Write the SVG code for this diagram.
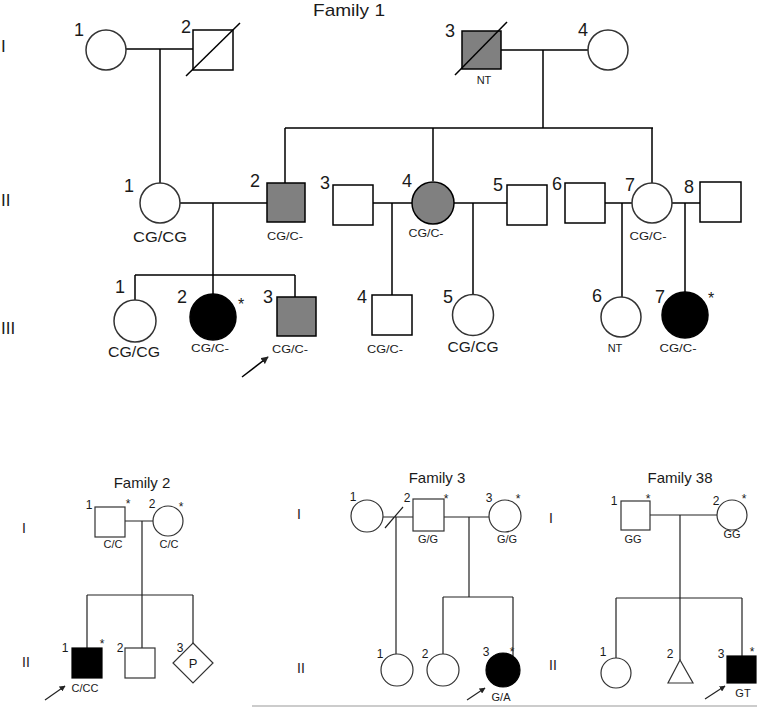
<svg xmlns="http://www.w3.org/2000/svg" width="757" height="707" viewBox="0 0 757 707">
<style>
text{font-family:"Liberation Sans",Arial,sans-serif;fill:#1a1a1a}
.t{font-size:17px}
.n{font-size:18px;text-anchor:middle}
.g{font-size:14px;text-anchor:middle}
.s{font-size:10px;text-anchor:middle}
.ast{font-size:16px;text-anchor:middle}
.n2{font-size:12px;text-anchor:middle}
.g2{font-size:11px;text-anchor:middle}
.a2{font-size:13px;text-anchor:middle}
.r{font-size:17px}
.r2{font-size:14px;text-anchor:middle}
.ttl{font-size:15px;text-anchor:middle}
.c1{fill:#fff;stroke:#333;stroke-width:1.5}
.q1{fill:#fff;stroke:#000;stroke-width:1.5}
.gr{fill:#808080;stroke:#000;stroke-width:1.5}
.bk{fill:#000;stroke:#000;stroke-width:1.5}
.c2{fill:#fff;stroke:#333;stroke-width:1.2}
.bk2{fill:#000;stroke:#000;stroke-width:1.2}
.l1{stroke:#000;stroke-width:1.5;fill:none}
.l2{stroke:#222;stroke-width:1.2;fill:none}
</style>
<defs>
<marker id="ah" viewBox="0 0 10 10" refX="9" refY="5" markerWidth="5" markerHeight="5" orient="auto">
<path d="M0,0 L10,5 L0,10 z" fill="#222"/>
</marker>
</defs>
<rect width="757" height="707" fill="#fff"/>

<!-- generation labels -->
<text class="r" x="1" y="52">I</text>
<text class="r" x="1" y="206">II</text>
<text class="r" x="1" y="334">III</text>
<text class="t" x="349" y="16" text-anchor="middle" textLength="72" lengthAdjust="spacingAndGlyphs">Family 1</text>

<g id="connectors">
<!-- Family 1 -->
<path class="l1" d="M126,49 H193 M160,49 V183"/>
<path class="l1" d="M501,50 H588 M543,50 V128 M285,128 H653 M285,128 V183 M433,128 V181 M652,128 V183"/>
<path class="l1" d="M180,203 H267 M213,203 V294 M135,275 H295 M135,275 V300 M295,275 V297"/>
<path class="l1" d="M373,203 H412 M392,203 V295"/>
<path class="l1" d="M454,203 H507 M473,203 V295"/>
<path class="l1" d="M605,203 H632 M622,203 V297"/>
<path class="l1" d="M672,203 H700 M685,203 V292"/>
<line class="l1" x1="242" y1="377" x2="268" y2="357" marker-end="url(#ah)"/>
<!-- Family 2 -->
<path class="l2" d="M125,521 H153 M142,521 V595 M87,595 H193 M87,595 V648 M142,595 V648 M193,595 V643"/>
<line class="l2" x1="45" y1="700" x2="65" y2="686" marker-end="url(#ah)"/>
<!-- Family 3 -->
<path class="l2" d="M383,517 H413 M385,528 L403,507 M396,517 V654 M444,517 H489 M469,517 V597 M443,597 H513 M443,597 V654 M513,597 V656"/>
<line class="l2" x1="467" y1="700" x2="485" y2="688" marker-end="url(#ah)"/>
<!-- Family 38 -->
<path class="l2" d="M650,515 H717 M680,515 V660 M616,598 H742 M616,598 V658 M742,598 V656"/>
<line class="l2" x1="705" y1="699" x2="725" y2="686" marker-end="url(#ah)"/>
</g>

<!-- Family 1 generation I -->
<g id="f1-I-1"><circle class="c1" cx="106" cy="50" r="20"/><text class="n" x="79" y="36">1</text></g>
<g id="f1-I-2"><rect class="q1" x="193" y="30" width="40" height="40"/><line class="l1" x1="186" y1="76" x2="240" y2="23" stroke-width="1.2"/><text class="n" x="186" y="33">2</text></g>
<g id="f1-I-3"><rect class="gr" x="462" y="31" width="39" height="38"/><line class="l1" x1="455" y1="75" x2="507" y2="22" stroke-width="1.2"/><text class="n" x="450" y="37">3</text><text class="g2" x="484" y="84">NT</text></g>
<g id="f1-I-4"><circle class="c1" cx="608" cy="50" r="20"/><text class="n" x="583" y="36">4</text></g>

<!-- Family 1 generation II -->
<g id="f1-II-1"><circle class="c1" cx="160" cy="203" r="20"/><text class="n" x="129" y="192">1</text><text class="g" x="160" y="242" textLength="54" lengthAdjust="spacingAndGlyphs">CG/CG</text></g>
<g id="f1-II-2"><rect class="gr" x="267" y="183" width="38" height="39"/><text class="n" x="255" y="187">2</text><text class="s" x="285" y="240" textLength="36" lengthAdjust="spacingAndGlyphs">CG/C-</text></g>
<g id="f1-II-3"><rect class="q1" x="333" y="185" width="40" height="40"/><text class="n" x="325" y="189">3</text></g>
<g id="f1-II-4"><circle class="gr" cx="433" cy="203" r="21" stroke="#333"/><text class="n" x="407" y="187">4</text><text class="s" x="426" y="237" textLength="35" lengthAdjust="spacingAndGlyphs">CG/C-</text></g>
<g id="f1-II-5"><rect class="q1" x="507" y="185" width="40" height="40"/><text class="n" x="498" y="191">5</text></g>
<g id="f1-II-6"><rect class="q1" x="565" y="183" width="40" height="40"/><text class="n" x="557" y="190">6</text></g>
<g id="f1-II-7"><circle class="c1" cx="652" cy="203" r="20"/><text class="n" x="630" y="191">7</text><text class="s" x="648" y="240" textLength="37" lengthAdjust="spacingAndGlyphs">CG/C-</text></g>
<g id="f1-II-8"><rect class="q1" x="700" y="182" width="41" height="40"/><text class="n" x="689" y="193">8</text></g>

<!-- Family 1 generation III -->
<g id="f1-III-1"><circle class="c1" cx="135" cy="321" r="21"/><text class="n" x="120" y="293">1</text><text class="g" x="134" y="357" textLength="52" lengthAdjust="spacingAndGlyphs">CG/CG</text></g>
<g id="f1-III-2"><circle class="bk" cx="213" cy="317" r="23"/><text class="n" x="182" y="303">2</text><text class="ast" x="241" y="310">*</text><text class="s" x="210" y="352" textLength="38" lengthAdjust="spacingAndGlyphs">CG/C-</text></g>
<g id="f1-III-3"><rect class="gr" x="277" y="297" width="39" height="39"/><text class="n" x="268" y="303">3</text><text class="s" x="290" y="353" textLength="36" lengthAdjust="spacingAndGlyphs">CG/C-</text></g>
<g id="f1-III-4"><rect class="q1" x="372" y="295" width="40" height="40"/><text class="n" x="362" y="303">4</text><text class="s" x="385" y="353" textLength="36" lengthAdjust="spacingAndGlyphs">CG/C-</text></g>
<g id="f1-III-5"><circle class="c1" cx="473" cy="315" r="20.5"/><text class="n" x="448" y="303">5</text><text class="g" x="473" y="352" textLength="51" lengthAdjust="spacingAndGlyphs">CG/CG</text></g>
<g id="f1-III-6"><circle class="c1" cx="621" cy="317" r="20"/><text class="n" x="597" y="302">6</text><text class="g2" x="615" y="352">NT</text></g>
<g id="f1-III-7"><circle class="bk" cx="685" cy="315" r="23"/><text class="n" x="660" y="303">7</text><text class="ast" x="711" y="304">*</text><text class="s" x="678" y="352" textLength="37" lengthAdjust="spacingAndGlyphs">CG/C-</text></g>

<!-- Family 2 -->
<text class="ttl" x="142" y="488">Family 2</text>
<text class="r2" x="24" y="533">I</text>
<text class="r2" x="26" y="667">II</text>
<g id="f2-I-1"><rect class="c2" x="95" y="507" width="30" height="30" stroke="#000"/><text class="n2" x="89" y="509">1</text><text class="n2" x="128" y="508">*</text><text class="g2" x="113" y="548">C/C</text></g>
<g id="f2-I-2"><circle class="c2" cx="168" cy="521" r="15"/><text class="n2" x="152" y="508">2</text><text class="n2" x="181" y="511">*</text><text class="g2" x="169" y="548">C/C</text></g>
<g id="f2-II-1"><rect class="bk2" x="72" y="648" width="30" height="30"/><text class="n2" x="65" y="652">1</text><text class="n2" x="102" y="648">*</text><text class="g2" x="85" y="692">C/CC</text></g>
<g id="f2-II-2"><rect class="c2" x="125" y="648" width="30" height="30" stroke="#000"/><text class="n2" x="120" y="652">2</text></g>
<g id="f2-II-3"><polygon class="c2" points="193,643 213,663 193,683 173,663" stroke="#000"/><text class="a2" x="193" y="668">P</text><text class="n2" x="180" y="652">3</text></g>

<!-- Family 3 -->
<text class="ttl" x="437" y="483">Family 3</text>
<text class="r2" x="299" y="519">I</text>
<text class="r2" x="301" y="673">II</text>
<g id="f3-I-1"><circle class="c2" cx="367" cy="516" r="16"/><text class="n2" x="353" y="501">1</text></g>
<g id="f3-I-2"><rect class="c2" x="413" y="499" width="31" height="32" stroke="#000"/><text class="n2" x="407" y="502">2</text><text class="n2" x="446" y="503">*</text><text class="g2" x="428" y="543">G/G</text></g>
<g id="f3-I-3"><circle class="c2" cx="505" cy="516" r="16"/><text class="n2" x="489" y="502">3</text><text class="n2" x="518" y="503">*</text><text class="g2" x="507" y="543">G/G</text></g>
<g id="f3-II-1"><circle class="c2" cx="397" cy="670" r="16"/><text class="n2" x="380" y="658">1</text></g>
<g id="f3-II-2"><circle class="c2" cx="443" cy="670" r="16"/><text class="n2" x="425" y="658">2</text></g>
<g id="f3-II-3"><circle class="bk2" cx="503" cy="670" r="17"/><text class="n2" x="486" y="656">3</text><text class="n2" x="512" y="656">*</text><text class="g2" x="501" y="701">G/A</text></g>

<!-- Family 38 -->
<text class="ttl" x="680" y="483">Family 38</text>
<text class="r2" x="551" y="523">I</text>
<text class="r2" x="553" y="670">II</text>
<g id="f38-I-1"><rect class="c2" x="621" y="501" width="29" height="29" stroke="#000"/><text class="n2" x="614" y="505">1</text><text class="n2" x="648" y="503">*</text><text class="g2" x="633" y="543">GG</text></g>
<g id="f38-I-2"><circle class="c2" cx="732" cy="515" r="15"/><text class="n2" x="716" y="505">2</text><text class="n2" x="744" y="503">*</text><text class="g2" x="732" y="538">GG</text></g>
<g id="f38-II-1"><circle class="c2" cx="616" cy="673" r="15"/><text class="n2" x="603" y="656">1</text></g>
<g id="f38-II-2"><polygon class="c2" points="680,660 668,683 693,683" stroke="#000"/><text class="n2" x="670" y="658">2</text></g>
<g id="f38-II-3"><rect class="bk2" x="727" y="656" width="29" height="27"/><text class="n2" x="721" y="658">3</text><text class="n2" x="752" y="656">*</text><text class="g2" x="743" y="697">GT</text></g>

<line x1="252" y1="706" x2="757" y2="706" stroke="#bbb" stroke-width="1.5"/>
</svg>
